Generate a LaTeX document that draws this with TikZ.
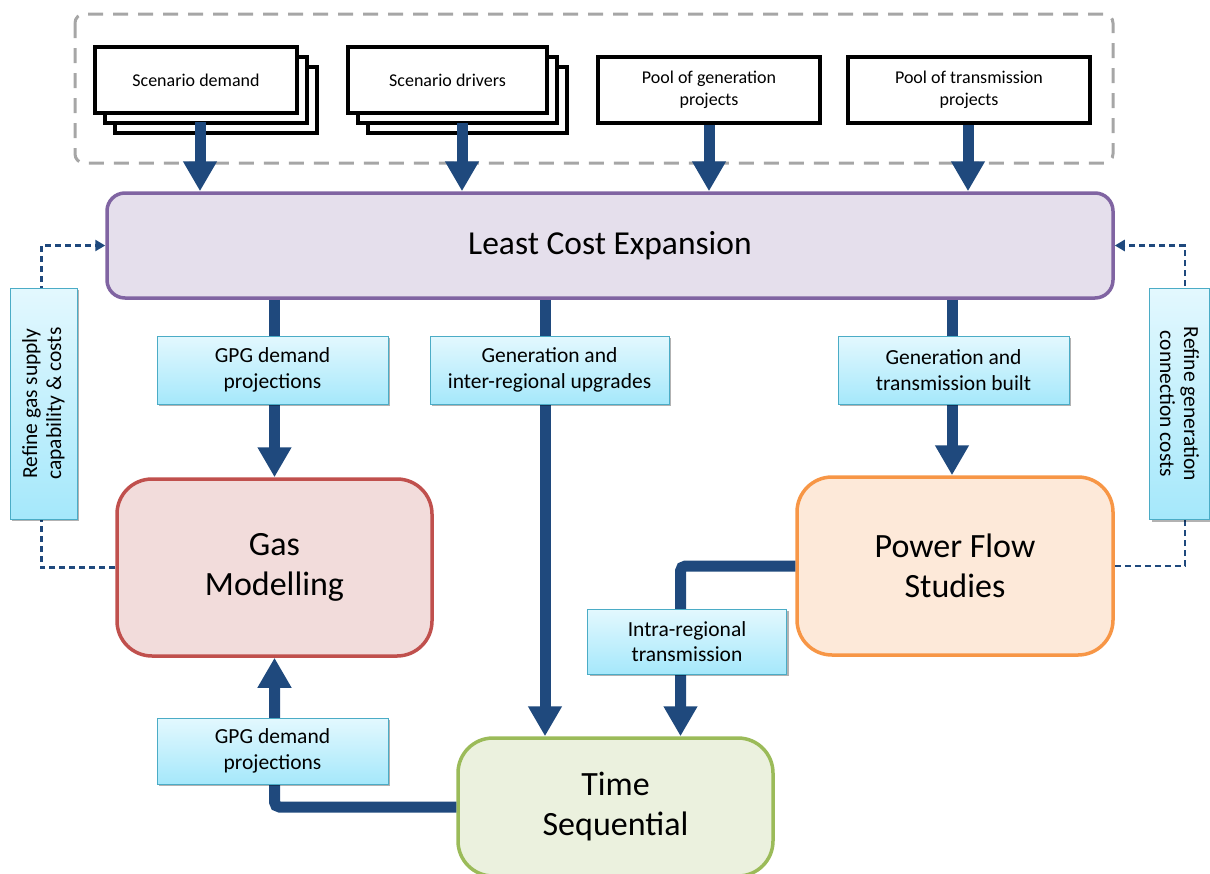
\documentclass[tikz,border=0pt]{standalone}
\usepackage{fontspec}
\setmainfont{Carlito}
\usetikzlibrary{arrows.meta,shadows}
\definecolor{navy}{HTML}{1F497D}
\definecolor{lcefill}{HTML}{E5DFEC}
\definecolor{lcedraw}{HTML}{8064A2}
\definecolor{gasfill}{HTML}{F2DCDB}
\definecolor{gasdraw}{HTML}{C0504D}
\definecolor{pffill}{HTML}{FDE9D9}
\definecolor{pfdraw}{HTML}{F79646}
\definecolor{tsfill}{HTML}{EBF1DE}
\definecolor{tsdraw}{HTML}{9BBB59}
\definecolor{lbltop}{HTML}{E3F8FE}
\definecolor{lblbot}{HTML}{A5E8FB}
\definecolor{lbldraw}{HTML}{4BACC6}
\definecolor{framegray}{HTML}{A6A6A6}
\begin{document}
\begin{tikzpicture}[x=1pt,y=-1pt,
  inbox/.style={draw=black, fill=white, line width=3.5pt, minimum height=66pt,
    inner sep=2pt, align=center, font=\fontsize{18}{22}\selectfont},
  stackbox/.style={draw=black, fill=white, line width=3.5pt},
  mainbox/.style={line width=3.5pt, align=center, font=\fontsize{34}{40}\selectfont},
  lbl/.style={draw=lbldraw, line width=1pt, top color=lbltop, bottom color=lblbot,
    minimum width=231pt, minimum height=68pt, inner sep=2pt, align=center,
    font=\fontsize{21.5}{25.5}\selectfont,
    drop shadow={shadow xshift=2pt, shadow yshift=-2pt, opacity=0.3, fill=black}},
  flow/.style={draw=navy, line width=11pt, rounded corners=5pt},
  flowarrow/.style={flow, -{Triangle[width=32pt,length=30pt]}},
  fb/.style={draw=navy, line width=2.5pt, dash pattern=on 6pt off 4pt,
    -{Triangle[width=11pt,length=10pt]}},
  frame/.style={draw=framegray, line width=3pt, dash pattern=on 15pt off 10pt, rounded corners=9pt}
]
\useasboundingbox (0,0) rectangle (1210,873);

% grouping frame
\draw[frame] (75,14) rectangle (1113,163);

% stacked back boxes
\draw[stackbox] (115,67) rectangle (317,133);
\draw[stackbox] (105,57) rectangle (307,123);
\draw[stackbox] (368,67) rectangle (567,133);
\draw[stackbox] (358,57) rectangle (557,123);

% input boxes
\node[inbox, minimum width=202pt] (sd) at (196,80) {Scenario demand};
\node[inbox, minimum width=199pt] (sdr) at (447.5,80) {Scenario drivers};
\node[inbox, minimum width=222pt] (pg) at (709,90) {Pool of generation\\projects};
\node[inbox, minimum width=242pt] (pt) at (969,90) {Pool of transmission\\projects};

% main boxes
\node[mainbox, draw=lcedraw, fill=lcefill, rounded corners=18pt,
  minimum width=1006pt, minimum height=105pt, font=\fontsize{33.5}{40}\selectfont] (lce) at (610,245.5) {Least Cost Expansion};
\node[mainbox, draw=gasdraw, fill=gasfill, rounded corners=35pt,
  minimum width=315pt, minimum height=177pt] (gas) at (274.5,567.5) {Gas\\Modelling};
\node[mainbox, draw=pfdraw, fill=pffill, rounded corners=35pt,
  minimum width=316pt, minimum height=178pt] (pf) at (955,566) {Power Flow\\Studies};
\node[mainbox, draw=tsdraw, fill=tsfill, rounded corners=35pt,
  minimum width=315pt, minimum height=138pt] (ts) at (615.5,807) {Time\\Sequential};

% input arrows
\draw[flowarrow] ([xshift=4pt,yshift=-7pt]sd.south) -- ([xshift=4pt]sd.south |- lce.north);
\draw[flowarrow] ([xshift=14.5pt,yshift=-8pt]sdr.south) -- ([xshift=14.5pt]sdr.south |- lce.north);
\draw[flowarrow] (pg.south) -- (pg.south |- lce.north);
\draw[flowarrow] ([xshift=-1pt]pt.south) -- ([xshift=-1pt]pt.south |- lce.north);

% main flows
\draw[flowarrow] (lce.south -| gas.north) -- (gas.north);
\draw[flowarrow] ([xshift=-70.5pt]ts.north |- lce.south) -- ([xshift=-70.5pt]ts.north);
\draw[flowarrow] ([xshift=-3pt]pf.north |- lce.south) -- ([xshift=-3pt]pf.north);
\draw[flowarrow] (pf.west) -| ([xshift=65pt]ts.north);
\draw[flowarrow] (ts.west) -| (gas.south);

% feedback
\draw[fb] (gas.west) -- ++(-74,0) |- (lce.west);
\draw[fb] (pf.east) -- ++(70,0) |- (lce.east);

% labels
\node[lbl] (l1) at (272.5,370) {GPG demand\\projections};
\node[lbl, minimum width=239pt] (l2) at (549.5,370) {Generation and\\inter-regional upgrades};
\node[lbl] (l3) at (953.5,370) {Generation and\\transmission built};
\node[lbl, minimum width=199pt, minimum height=65pt] (l4) at (687,641.5) {Intra-regional\\transmission};
\node[lbl, minimum height=66pt] (l5) at (272.5,751) {GPG demand\\projections};
\node[lbl, rotate=90, minimum height=67pt, font=\fontsize{21.5}{24}\selectfont] (l6) at (43.5,403.5) {Refine gas supply\\capability \& costs};
\node[lbl, rotate=-90, minimum height=60pt, font=\fontsize{21.5}{24}\selectfont] (l7) at (1179.5,404) {Refine generation\\connection costs};
\end{tikzpicture}
\end{document}
